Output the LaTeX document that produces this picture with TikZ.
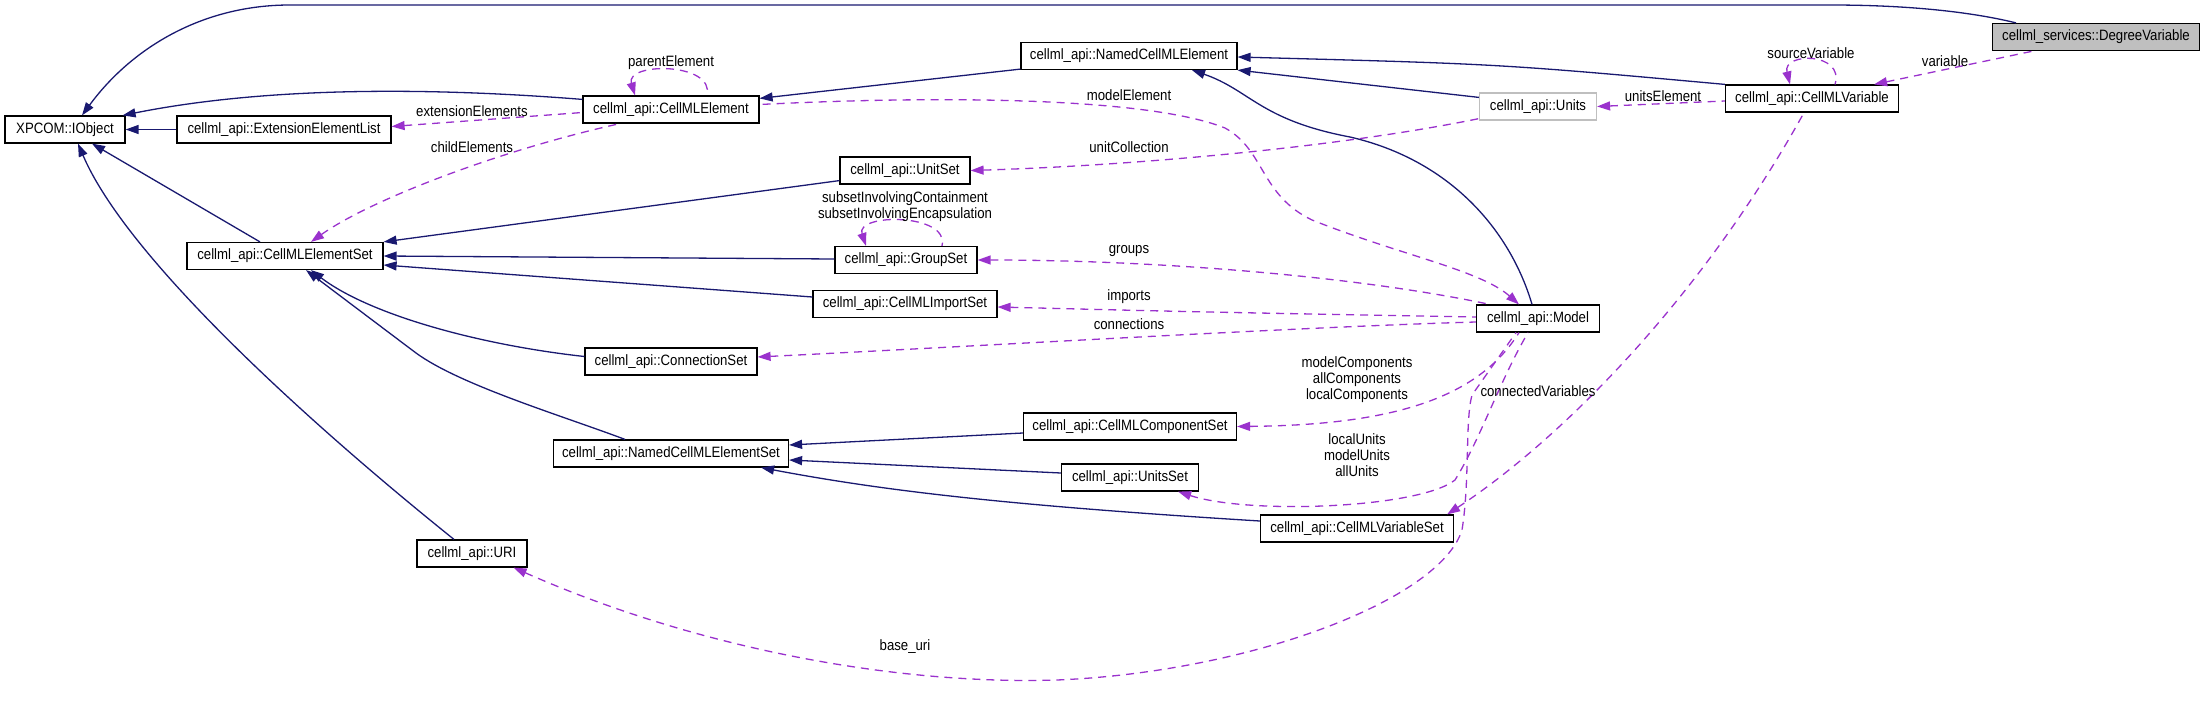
\documentclass[tikz,border=0pt]{standalone}
\usepackage{fontspec}
\usepackage{xcolor}
\usepackage{tikz}
\usetikzlibrary{arrows.meta}
\newfontfamily\doxfont[FakeStretch=0.88]{Liberation Sans}
\definecolor{inhblue}{HTML}{191970}
\definecolor{usepurple}{HTML}{9A32CD}
\definecolor{undocgray}{HTML}{BFBFBF}

\begin{document}
\begin{tikzpicture}[x=1pt,y=-1pt,
  cls/.style={draw, line width=1.2pt, fill=white, minimum height=27pt, inner sep=0pt, font=\doxfont\fontsize{15}{18}\selectfont},
  inherit/.style={draw=inhblue, line width=1.3pt, {Triangle[length=13pt,width=9pt]}-},
  member/.style={draw=usepurple, line width=1.3pt, dash pattern=on 8pt off 6pt, {Triangle[length=13pt,width=9pt]}-},
  lbl/.style={inner sep=0pt, align=center, font=\doxfont\fontsize{15}{16}\selectfont}]
\useasboundingbox (0,0) rectangle (2205,717);

\node[cls, minimum width=120pt] (iobj) at (65,129.5) {XPCOM::IObject};
\node[cls, minimum width=214pt] (extlist) at (284,129.5) {cellml\_api::ExtensionElementList};
\node[cls, minimum width=176pt] (elem) at (671,109.5) {cellml\_api::CellMLElement};
\node[cls, minimum width=216pt] (named) at (1129,56) {cellml\_api::NamedCellMLElement};
\node[cls, minimum width=207pt, fill=undocgray] (degvar) at (2096,37) {cellml\_services::DegreeVariable};
\node[cls, minimum width=173pt] (cvar) at (1812,98.5) {cellml\_api::CellMLVariable};
\node[cls, minimum width=117pt, draw=undocgray] (units) at (1538,106.5) {cellml\_api::Units};
\node[cls, minimum width=130pt] (unitset) at (905,170.5) {cellml\_api::UnitSet};
\node[cls, minimum width=196pt] (elemset) at (285,256) {cellml\_api::CellMLElementSet};
\node[cls, minimum width=142pt] (groupset) at (906,260) {cellml\_api::GroupSet};
\node[cls, minimum width=184pt] (importset) at (905,304) {cellml\_api::CellMLImportSet};
\node[cls, minimum width=123pt] (model) at (1538,318.5) {cellml\_api::Model};
\node[cls, minimum width=172pt] (connset) at (671,361.5) {cellml\_api::ConnectionSet};
\node[cls, minimum width=213pt] (compset) at (1130,426.5) {cellml\_api::CellMLComponentSet};
\node[cls, minimum width=235pt] (namedset) at (671,453.5) {cellml\_api::NamedCellMLElementSet};
\node[cls, minimum width=137pt] (unitsset) at (1130,477.5) {cellml\_api::UnitsSet};
\node[cls, minimum width=193pt] (varset) at (1357,528.5) {cellml\_api::CellMLVariableSet};
\node[cls, minimum width=110pt] (uri) at (472,553.5) {cellml\_api::URI};

\draw[inherit] ([xshift=17pt]iobj.north) .. controls (130,50) and (200,5) .. (290,5) -- (1830,5) .. controls (1920,5) and (1980,14) .. ([xshift=-80pt]degvar.north);
\draw[inherit] ([yshift=-1pt]named.east) .. controls (1500,64) .. (cvar.north west);
\draw[inherit] (named.south east) -- ([yshift=-5pt]units.north west);
\draw[inherit] ([xshift=63pt]named.south) .. controls (1250,90) and (1260,120) .. (1350,137) .. controls (1450,160) and (1510,230) .. ([xshift=-6pt]model.north);
\draw[inherit] ([yshift=-3pt]elem.north east) -- ([yshift=1pt]named.south west);
\draw[inherit] ([xshift=-3pt]iobj.north east) .. controls (250,90) and (400,85) .. ([yshift=-4pt]elem.north west);
\draw[inherit] (iobj.east) -- (extlist.west);
\draw[inherit] ([xshift=27pt]iobj.south) -- ([xshift=-25pt]elemset.north);
\draw[inherit] ([xshift=13pt]iobj.south) .. controls (130,265) and (330,440) .. ([xshift=-18pt]uri.north);
\draw[inherit] (elemset.north east) -- ([yshift=4pt]unitset.south west);
\draw[inherit] (elemset.east) -- ([yshift=1pt]groupset.west);
\draw[inherit] ([yshift=-9pt]elemset.east) -- ([yshift=7pt]importset.west);
\draw[inherit] ([xshift=26pt]elemset.south) .. controls (370,315) and (480,345) .. ([yshift=5pt]connset.west);
\draw[inherit] ([xshift=21pt]elemset.south) -- (416,353) .. controls (460,385) and (560,415) .. ([xshift=-46pt]namedset.north);
\draw[inherit] ([yshift=8.5pt]namedset.east) -- ([yshift=-6.5pt]compset.west);
\draw[inherit] ([yshift=-6.5pt]namedset.east) -- ([yshift=4.5pt]unitsset.west);
\draw[inherit] ([xshift=-28pt]namedset.south east) .. controls (880,490) and (1000,505) .. ([yshift=7.5pt]varset.west);

\draw[member] ([xshift=-25pt]cvar.north east) -- ([xshift=-63pt]degvar.south);
\draw[member] ([xshift=-22pt]cvar.north) .. controls (1782,52) and (1845,52) .. ([xshift=23pt]cvar.north);
\draw[member] (units.east) -- ([yshift=-2.5pt]cvar.west);
\draw[member] ([xshift=-7pt]varset.north east) .. controls (1560,440) and (1700,300) .. ([xshift=-8pt]cvar.south);
\draw[member] ([xshift=-19pt]model.north) .. controls (1480,270) and (1400,255) .. (1312,220) .. controls (1260,195) and (1265,150) .. (1225,128) .. controls (1150,98) and (950,95) .. ([yshift=5pt]elem.east);
\draw[member] (unitset.east) .. controls (1150,165) and (1350,145) .. ([yshift=2pt]units.south west);
\draw[member] (groupset.east) .. controls (1150,260) and (1350,275) .. ([xshift=14pt]model.north west);
\draw[member] ([yshift=-3pt]importset.east) .. controls (1200,312) .. ([yshift=1.5pt]model.west);
\draw[member] ([yshift=4.5pt]connset.east) .. controls (1000,345) and (1300,327) .. ([yshift=-3.5pt]model.west);
\draw[member] (compset.east) .. controls (1400,425) and (1480,395) .. ([xshift=-19pt]model.south);
\draw[member] ([xshift=-21pt]unitsset.south east) .. controls (1250,515) and (1420,508) .. (1455,480) .. controls (1480,440) and (1500,380) .. ([xshift=-10pt]model.south);
\draw[member] ([xshift=-14pt]uri.south east) .. controls (700,650) and (900,685) .. (1057,680) .. controls (1250,672) and (1440,600) .. (1462,530) .. controls (1470,480) and (1465,420) .. (1472,395) -- ([xshift=-22pt]model.south);
\draw[member] ([yshift=3pt]extlist.east) -- ([yshift=-3pt]elem.west);
\draw[member] ([xshift=26pt]elemset.north) .. controls (370,200) and (500,150) .. ([xshift=-51pt]elem.south);
\draw[member] ([xshift=-36pt]elem.north) .. controls (625,62) and (715,62) .. ([xshift=36pt]elem.north);
\draw[member] ([xshift=-40pt]groupset.north) .. controls (855,213) and (950,213) .. ([xshift=36pt]groupset.north);

\node[lbl] (lparent) at (671,63) {parentElement};
\node[lbl] (lext) at (472,111) {extensionElements};
\node[lbl] (lchild) at (472,147) {childElements};
\node[lbl] (lmodelel) at (1129,95) {modelElement};
\node[lbl] (lunitcoll) at (1129,147) {unitCollection};
\node[lbl] (lsubset) at (905,207) {subsetInvolvingContainment\\subsetInvolvingEncapsulation};
\node[lbl] (lgroups) at (1129,251) {groups};
\node[lbl] (limports) at (1129,297) {imports};
\node[lbl] (lconn) at (1129,324) {connections};
\node[lbl] (lcomp) at (1357,380) {modelComponents\\allComponents\\localComponents};
\node[lbl] (lunits) at (1357,455) {localUnits\\modelUnits\\allUnits};
\node[lbl] (lbase) at (905,647) {base\_uri};
\node[lbl] (lsource) at (1811,53) {sourceVariable};
\node[lbl] (lvar) at (1945,61) {variable};
\node[lbl] (lunitsel) at (1663,96) {unitsElement};
\node[lbl] (lconnvar) at (1538,391) {connectedVariables};
\end{tikzpicture}
\end{document}
